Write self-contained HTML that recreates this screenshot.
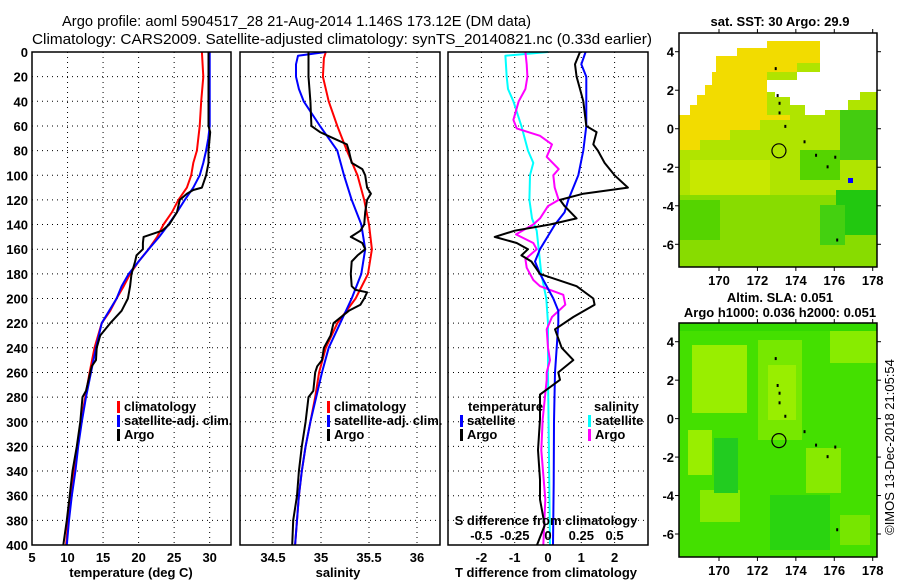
<!DOCTYPE html>
<html><head><meta charset="utf-8"><style>
html,body{margin:0;padding:0;background:#fff;}
svg{display:block;font-family:"Liberation Sans",Arial,sans-serif;}
.tk{font-size:13px;font-weight:bold;fill:#000;}
</style></head><body>
<svg id="fig" width="900" height="580" viewBox="0 0 900 580" xmlns="http://www.w3.org/2000/svg">
<text x="62" y="26" textLength="469" lengthAdjust="spacingAndGlyphs" font-size="15">Argo profile: aoml 5904517_28 21-Aug-2014 1.146S 173.12E (DM data)</text>
<text x="32" y="44" textLength="620" lengthAdjust="spacingAndGlyphs" font-size="15">Climatology: CARS2009. Satellite-adjusted climatology: synTS_20140821.nc (0.33d earlier)</text>
<g id="maps"></g>
<g id="plots"></g>
<text transform="translate(894,447) rotate(-90)" text-anchor="middle" font-size="13">©IMOS 13-Dec-2018 21:05:54</text>
</svg>
<script>
// ---- data ----
const depthTicks=[0,20,40,60,80,100,120,140,160,180,200,220,240,260,280,300,320,340,360,380,400];
const tempTicks=[5,10,15,20,25,30];
const salTicks=[34.5,35,35.5,36];
const salTickLabels=["34.5","35","35.5","36"];
const dTTicks=[-2,-1,0,1,2];
const dSTicks=[-0.5,-0.25,0,0.25,0.5];
const dSTickLabels=["-0.5","-0.25","0","0.25","0.5"];

const tempClimDepth=[0,20,40,60,80,90,100,110,120,130,140,150,160,170,180,190,200,210,220,240,260,280,300,320,340,360,380,400];
const tempClim=[28.9,29.1,28.8,28.6,28.2,27.7,27.4,26.8,25.6,24.7,23.5,22.6,21.4,20.0,18.8,17.9,16.9,16.0,14.8,13.8,13.1,12.5,11.9,11.4,10.9,10.4,10.1,9.8];
const tempSatDepth=[0,20,40,60,70,80,90,100,110,120,130,140,150,160,170,180,190,200,220,240,260,280,300,320,340,360,380,400];
const tempSat=[30.0,30.0,30.0,30.0,29.8,29.5,29.1,28.6,27.7,26.5,25.4,24.2,22.9,21.4,20.0,18.6,17.6,16.9,14.8,14.0,13.3,12.6,12.0,11.5,11.1,10.6,10.2,9.9];
const tempArgoDepth=[0,20,40,60,65,80,90,100,105,110,112,115,120,130,140,145,150,155,160,165,170,180,190,200,210,220,230,240,250,255,260,275,280,300,320,340,360,380,400];
const tempArgo=[29.84,29.84,29.84,29.84,30.07,29.84,29.84,29.5,29.2,28.9,27.7,26.8,25.8,25.4,24.3,23.3,20.7,20.6,20.6,19.7,19.5,19.0,18.8,18.5,17.6,16.0,14.6,14.1,14.0,13.4,13.2,12.6,12.1,11.8,11.3,10.7,10.3,9.9,9.4];

const salClimDepth=[0,5,20,40,60,80,100,120,140,160,180,200,220,240,260,280,300,320,340,360,380,400];
const salClim=[35.05,35.03,35.02,35.08,35.17,35.27,35.38,35.45,35.50,35.53,35.49,35.36,35.17,35.05,34.98,34.94,34.89,34.84,34.80,34.77,34.75,34.73];
const salSatDepth=[0,3,10,20,30,40,60,80,100,120,140,160,180,200,220,240,260,280,300,320,340,360,380,400];
const salSat=[35.05,34.76,34.74,34.74,34.77,34.82,34.99,35.17,35.24,35.32,35.42,35.46,35.42,35.32,35.20,35.08,35.01,34.95,34.89,34.84,34.80,34.77,34.75,34.73];
const salArgoDepth=[0,20,40,60,65,70,75,80,90,95,100,110,115,120,130,140,145,150,155,160,165,170,180,190,193,195,200,205,210,220,230,240,250,255,260,275,280,300,320,340,360,380,400];
const salArgo=[34.87,34.87,34.89,34.90,34.99,35.13,35.27,35.29,35.32,35.43,35.46,35.48,35.52,35.48,35.46,35.45,35.41,35.31,35.43,35.46,35.38,35.32,35.31,35.32,35.36,35.48,35.45,35.41,35.29,35.13,35.10,35.03,35.01,34.96,34.94,34.92,34.87,34.84,34.80,34.77,34.75,34.71,34.70];

const dTSatDepth=[0,10,20,40,60,80,100,120,130,140,160,170,180,200,210,220,240,260,300,350,400];
const dTSat=[1.13,1.0,1.15,1.15,1.15,1.06,0.91,0.61,0.5,0.21,-0.24,-0.39,-0.24,0.16,0.31,0.31,0.26,0.21,0.18,0.17,0.15];
const dTArgoDepth=[0,10,20,30,40,60,65,75,80,90,100,110,115,120,125,135,140,145,150,155,160,165,170,180,190,200,205,215,225,240,250,260,266,278,298,323,347,363,384,400];
const dTArgo=[0.96,0.81,0.86,0.96,1.06,1.15,1.46,1.36,1.5,1.7,2.0,2.4,1.06,0.36,0.5,0.86,0.06,-1.0,-1.6,-0.94,-0.6,-0.8,-0.5,-0.24,0.86,1.36,1.4,0.76,0.21,0.41,0.76,0.31,0.36,-0.24,-0.24,-0.3,-0.24,-0.24,-0.1,-0.33];
const dSSatDepth=[0,3,20,30,40,60,80,90,100,120,135,145,160,180,200,220,260,400];
const dSSat=[0.0,-0.32,-0.31,-0.30,-0.26,-0.2,-0.15,-0.11,-0.135,-0.14,-0.12,-0.085,-0.07,-0.05,-0.013,0.0,0.0,0.015];
const dSArgoDepth=[0,10,20,30,40,55,62,68,75,85,95,100,110,120,125,135,140,148,155,160,168,175,185,190,197,205,215,225,240,250,260,266,298,323,363,400];
const dSArgo=[-0.17,-0.16,-0.155,-0.17,-0.22,-0.26,-0.235,-0.06,0.03,-0.01,0.08,0.04,0.05,0.08,0.0,-0.06,-0.11,-0.24,-0.11,-0.085,-0.17,-0.16,-0.11,-0.06,0.115,0.13,0.03,-0.01,0.0,0.015,-0.01,-0.01,-0.04,-0.05,-0.02,-0.035];

const lonTicks=[170,172,174,176,178];
const latTicks=[4,2,0,-2,-4,-6];
const floatLon=173.12, floatLat=-1.146;

// ---- helpers ----
const NS="http://www.w3.org/2000/svg";
function mk(tag,attrs,parent){const e=document.createElementNS(NS,tag);for(const k in attrs)e.setAttribute(k,attrs[k]);(parent||document.getElementById('plots')).appendChild(e);return e;}
const Y0=52,Y1=545;
function yD(d){return Y0+(d/400)*(Y1-Y0);}
function lin(d0,d1,r0,r1){return v=>r0+(v-d0)/(d1-d0)*(r1-r0);}

const plots=document.getElementById('plots');
function panel(x0,x1,xs,xticks,xlabels,name){
  const g=mk('g',{},plots);
  
  
  depthTicks.forEach(d=>{
    const l=mk('line',{x1:x0,x2:x1,y1:yD(d),y2:yD(d),stroke:'#000','stroke-width':1,'stroke-dasharray':'1,4'},g);
    
    
  });
  xticks.forEach((v,i)=>{
    const l=mk('line',{x1:xs(v),x2:xs(v),y1:Y0,y2:Y1,stroke:'#000','stroke-width':1,'stroke-dasharray':'1,4'},g);
    
    
    if(xlabels){
      const t=mk('text',{x:xs(v),y:562,'text-anchor':'middle',class:'tk'},g);
      t.textContent=xlabels[i];
      
      
    }
  });
  return g;
}
function frame(g,x0,x1){
  const r=mk('rect',{x:x0,y:Y0,width:x1-x0,height:Y1-Y0,fill:'none',stroke:'#000','stroke-width':1.5},g);
  
  
}
function series(g,xs,vals,depths,color,name,w){
  const pts=vals.map((v,i)=>xs(v).toFixed(1)+','+yD(depths[i]).toFixed(1)).join(' ');
  const p=mk('polyline',{points:pts,fill:'none',stroke:color,'stroke-width':w||2,'stroke-linejoin':'round'},g);
  
  
}
function txt(g,x,y,s,name,anchor,size){
  const t=mk('text',{x:x,y:y,'text-anchor':anchor||'start',class:'tk'},g);
  if(size)t.setAttribute('font-size',size);
  t.textContent=s;
  
  
  return t;
}
function mark(g,x,y,color,name){
  const r=mk('rect',{x:x,y:y-10,width:3,height:12,fill:color},g);
  
  
}

// depth labels
const ylab=mk('g',{},plots);


depthTicks.forEach(d=>{
  const t=mk('text',{x:28,y:yD(d)+5,'text-anchor':'end',class:'tk'},ylab);
  t.textContent=String(d);
  
  
});

// Panel 1 temperature
const xT=lin(5,33,32,231);
const p1=panel(32,231,xT,tempTicks,tempTicks.map(String),'temperature-panel');
series(p1,xT,tempClim,tempClimDepth,'#ff0000','temperature-climatology-line');
series(p1,xT,tempSat,tempSatDepth,'#0000ff','temperature-satellite-line');
series(p1,xT,tempArgo,tempArgoDepth,'#000000','temperature-argo-line');
frame(p1,32,231);
txt(p1,131,577,'temperature (deg C)','temperature-axis-title','middle');
mark(p1,117,411,'#ff0000','legend-climatology-marker');txt(p1,124,411,'climatology','legend-climatology');
mark(p1,117,425,'#0000ff','legend-satellite-marker');txt(p1,124,425,'satellite-adj. clim.','legend-satellite');
mark(p1,117,439,'#000','legend-argo-marker');txt(p1,124,439,'Argo','legend-argo');

// Panel 2 salinity
const xS=lin(34.5,35,273,321);
const p2=panel(240,440,xS,salTicks,salTickLabels,'salinity-panel');
series(p2,xS,salClim,salClimDepth,'#ff0000','salinity-climatology-line');
series(p2,xS,salSat,salSatDepth,'#0000ff','salinity-satellite-line');
series(p2,xS,salArgo,salArgoDepth,'#000000','salinity-argo-line');
frame(p2,240,440);
txt(p2,338,577,'salinity','salinity-axis-title','middle');
mark(p2,327,411,'#ff0000','legend-climatology-marker');txt(p2,334,411,'climatology','legend-climatology');
mark(p2,327,425,'#0000ff','legend-satellite-marker');txt(p2,334,425,'satellite-adj. clim.','legend-satellite');
mark(p2,327,439,'#000','legend-argo-marker');txt(p2,334,439,'Argo','legend-argo');

// Panel 3 differences
const xdT=lin(0,1,548,581.3);
const xdS=lin(0,0.25,548,581.3);
const p3=panel(448,648,xdT,dTTicks,dTTicks.map(String),'difference-panel');
series(p3,xdS,dSSat,dSSatDepth,'#00ffff','salinity-diff-satellite-line');
series(p3,xdS,dSArgo,dSArgoDepth,'#ff00ff','salinity-diff-argo-line');
series(p3,xdT,dTSat,dTSatDepth,'#0000ff','temperature-diff-satellite-line');
series(p3,xdT,dTArgo,dTArgoDepth,'#000000','temperature-diff-argo-line');
frame(p3,448,648);
txt(p3,546,577,'T difference from climatology','t-diff-axis-title','middle');
txt(p3,546,525,'S difference from climatology','s-diff-axis-title','middle');
dSTicks.forEach((v,i)=>{txt(p3,xdS(v),540,dSTickLabels[i],'s-diff-tick-label','middle');});
txt(p3,468,411,'temperature','legend-temperature-header');
mark(p3,460,425,'#0000ff','legend-t-satellite-marker');txt(p3,467,425,'satellite','legend-t-satellite');
mark(p3,460,439,'#000','legend-t-argo-marker');txt(p3,467,439,'Argo','legend-t-argo');
txt(p3,594,411,'salinity','legend-salinity-header');
mark(p3,588,425,'#00ffff','legend-s-satellite-marker');txt(p3,595,425,'satellite','legend-s-satellite');
mark(p3,588,439,'#ff00ff','legend-s-argo-marker');txt(p3,595,439,'Argo','legend-s-argo');

// ---- maps ----
const maps=document.getElementById('maps');
function mapBox(top,bottom,lat4y,latm6y,name,draw,titles){
  const g=mk('g',{},maps);
  
  
  const x0=679,x1=877;
  const lx=lin(170,178,719,872.7), ly=lin(4,-6,lat4y,latm6y);
  const cp=mk('clipPath',{id:name+'-clip'},g);
  mk('rect',{x:x0,y:top,width:x1-x0,height:bottom-top},cp);
  const inner=mk('g',{'clip-path':'url(#'+name+'-clip)'},g);
  draw(inner,lx,ly);
  [[172.9,3.2],[173.0,1.8],[173.1,1.4],[173.1,0.9],[173.4,0.2],[174.4,-0.6],[175.0,-1.3],[176.0,-1.4],[175.6,-1.9],[176.1,-5.7]].forEach(p=>{
    const d=mk('rect',{x:lx(p[0]),y:ly(p[1]),width:2,height:3,fill:'#000'},inner);
    
    
  });
  const c=mk('circle',{cx:lx(floatLon),cy:ly(floatLat),r:7,fill:'none',stroke:'#000','stroke-width':1.2},inner);
  
  
  const f=mk('rect',{x:x0,y:top,width:x1-x0,height:bottom-top,fill:'none',stroke:'#000','stroke-width':1.5},g);
  
  
  lonTicks.forEach(v=>{
    mk('line',{x1:lx(v),x2:lx(v),y1:top-4,y2:top,stroke:'#000'},g);
    mk('line',{x1:lx(v),x2:lx(v),y1:bottom,y2:bottom+4,stroke:'#000'},g);
    txt(g,lx(v),bottom+18,String(v),'lon-tick-label','middle',14);
  });
  latTicks.forEach(v=>{
    mk('line',{x1:x0-4,x2:x0,y1:ly(v),y2:ly(v),stroke:'#000'},g);
    mk('line',{x1:x1,x2:x1+4,y1:ly(v),y2:ly(v),stroke:'#000'},g);
    txt(g,674,ly(v)+5,String(v),'lat-tick-label','end',14);
  });
  titles.forEach(t=>txt(g,780,t[1],t[0],'map-title','middle',13));
}
function R(g,x,y,w,h,c,name){const r=mk('rect',{x:x,y:y,width:w,height:h,fill:c},g);return r;}

mapBox(33,267,51.7,244.3,'sst-map',(g)=>{
  R(g,679,33,198,234,'#b0e400','sst-field');
  R(g,679,195,198,72,'#88dc00','sst-field-south');
  R(g,836,190,41,45,'#22c810','sst-warm-patch');
  R(g,820,205,25,40,'#44d010','sst-patch');
  R(g,680,200,40,40,'#55d400','sst-patch');
  R(g,800,150,40,30,'#55d400','sst-patch');
  R(g,690,160,80,35,'#c8e800','sst-patch');
  R(g,840,110,37,50,'#44cc10','sst-patch');
  const w=mk('path',{d:'M679,33 H877 V92 H860 V100 H848 V110 H825 V115 H805 V105 H790 V97 H775 V92 H767 V80 H797 V72 H820 V63 H679 Z',fill:'#fff'},g);
  
  
  const y=mk('path',{d:'M679,115 H690 V105 H697 V95 H705 V85 H712 V72 H716 V56 H737 V48 H767 V41 H797 V41 H820 V63 H797 V72 H767 V80 H767 V115 H790 V120 H760 V130 H730 V140 H700 V150 H679 Z',fill:'#f2dc00'},g);
  
  
  const wl=mk('path',{d:'M679,33 H820 V41 H767 V48 H737 V56 H716 V72 H712 V85 H705 V95 H697 V105 H690 V115 H679 Z',fill:'#fff'},g);
  
  
  R(g,797,33,24,8,'#fff','no-data-region');
  R(g,848,178,5,5,'#0000ff','sst-hot-cell');
},[['sat. SST: 30 Argo: 29.9',26]]);

mapBox(323,557,341.7,534,'sla-map',(g)=>{
  R(g,679,323,198,234,'#44e000','sla-field');
  R(g,692,345,55,68,'#99ee00','sla-high-patch');
  R(g,758,340,44,100,'#77e800','sla-high-patch');
  R(g,768,365,28,55,'#99ee00','sla-high-patch');
  R(g,830,328,47,35,'#88ec00','sla-high-patch');
  R(g,688,430,24,45,'#99ee00','sla-high-patch');
  R(g,806,448,35,45,'#88ea00','sla-high-patch');
  R(g,700,490,40,32,'#88ea00','sla-high-patch');
  R(g,840,515,30,30,'#77e600','sla-high-patch');
  R(g,714,438,24,55,'#22cc20','sla-low-patch');
  R(g,770,495,60,55,'#2ad410','sla-low-patch');
  R(g,679,323,198,8,'#33d800','sla-edge');
},[['Altim. SLA: 0.051',302],['Argo h1000: 0.036 h2000: 0.051',317]]);
</script>
</body></html>
